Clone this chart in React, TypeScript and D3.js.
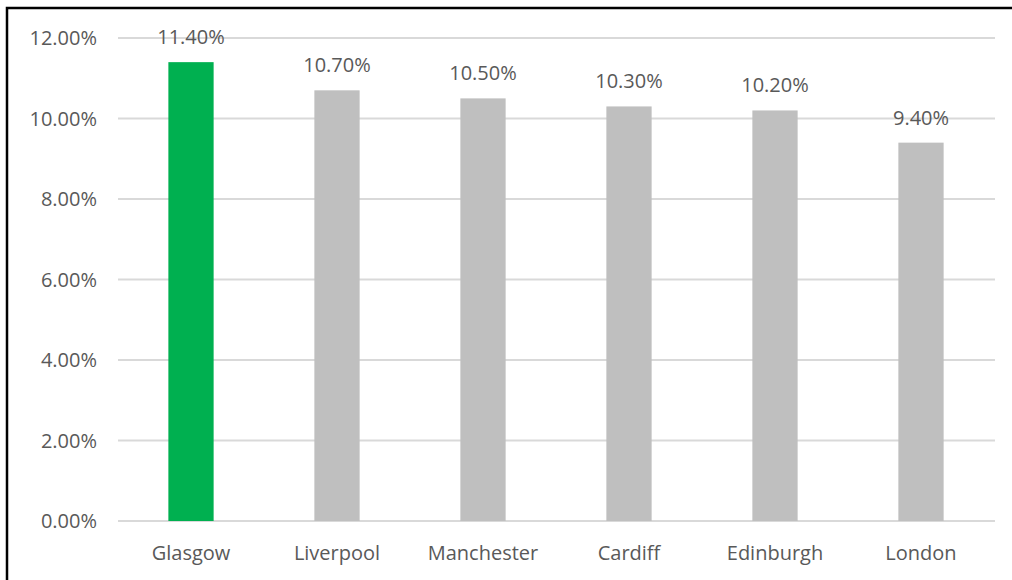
import React from "react";
import * as d3 from "d3";

const categories = ["Glasgow", "Liverpool", "Manchester", "Cardiff", "Edinburgh", "London"];
const values = [11.4, 10.7, 10.5, 10.3, 10.2, 9.4];
const barColors = ["#00b050", "#bfbfbf", "#bfbfbf", "#bfbfbf", "#bfbfbf", "#bfbfbf"];
const yTicks = [0, 2, 4, 6, 8, 10, 12];

const W = 1012;
const H = 580;
const FONT = "'Open Sans', sans-serif";

export default function App() {
  const x = d3.scaleBand<string>().domain(categories).range([118, 994]).paddingInner(0.69).paddingOuter(0.345);
  const y = d3.scaleLinear().domain([0, 12]).range([521, 38]);
  const fmt = (v: number) => v.toFixed(2) + "%";
  return (
    <svg width={W} height={H} style={{ position: "absolute", left: 0, top: 0, background: "#fff" }}>
      <rect x={0} y={0} width={W} height={H} fill="#fff" />
      {yTicks.map((t) => (
        <g key={t}>
          <line x1={118} x2={995} y1={y(t)} y2={y(t)} stroke="#d9d9d9" strokeWidth={2} />
          <text x={97} y={y(t)} dy="0.35em" textAnchor="end" fontFamily={FONT} fontSize={20} fill="#595959">
            {fmt(t)}
          </text>
        </g>
      ))}
      {categories.map((c, i) => (
        <g key={c}>
          <rect x={x(c)!} y={y(values[i])} width={x.bandwidth()} height={y(0) - y(values[i])} fill={barColors[i]} />
          <text x={x(c)! + x.bandwidth() / 2} y={y(values[i]) - 18} textAnchor="middle" fontFamily={FONT} fontSize={20} fill="#595959">
            {fmt(values[i])}
          </text>
          <text x={x(c)! + x.bandwidth() / 2} y={560} textAnchor="middle" fontFamily={FONT} fontSize={20} fill="#595959">
            {c}
          </text>
        </g>
      ))}
      <rect x={7} y={8} width={W + 20} height={H + 20} fill="none" stroke="#000" strokeWidth={2.5} />
    </svg>
  );
}
